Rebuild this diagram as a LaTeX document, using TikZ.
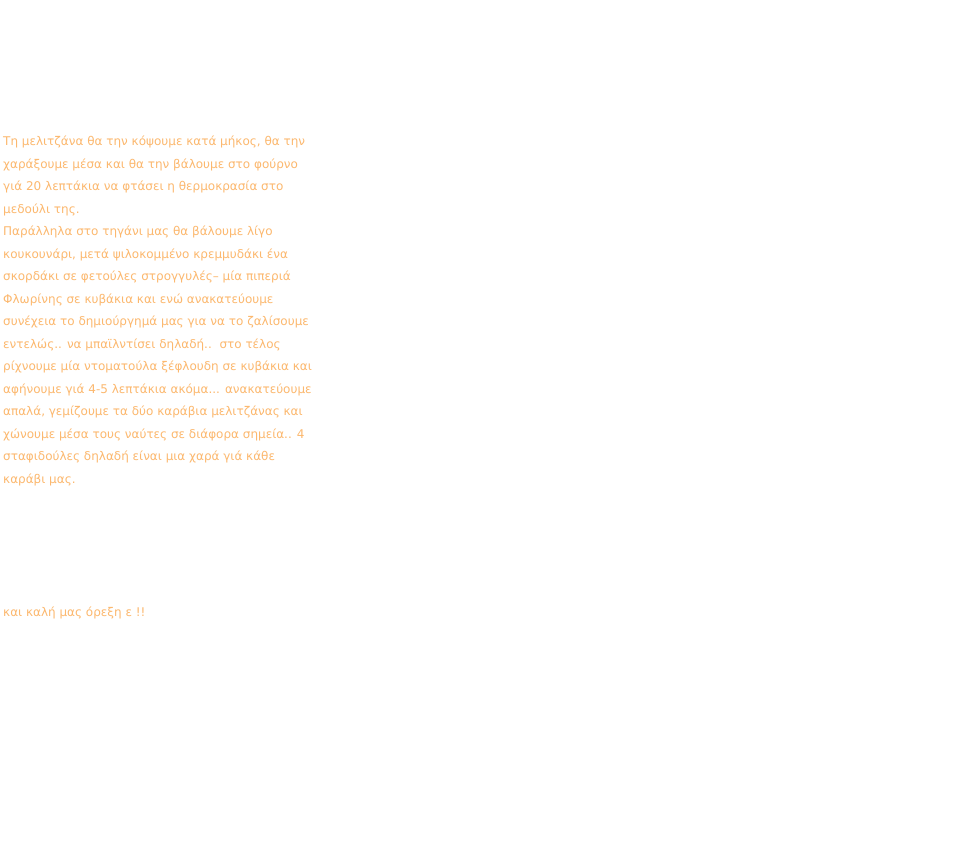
\documentclass[tikz,border=0pt]{standalone}
\usepackage{fontspec}
\setmainfont{DejaVu Sans}
\definecolor{txtorange}{RGB}{252,184,110}
\begin{document}
\begin{tikzpicture}[x=1pt,y=-1pt,
  line/.style={anchor=base west,inner sep=0pt,text=txtorange,font=\fontsize{12}{15}\selectfont}]
\useasboundingbox[fill=white] (0,0) rectangle (980,847);
\node[line] (l1) at (3,145.5) {Τη μελιτζάνα θα την κόψουμε κατά μήκος, θα την};
\node[line] (l2) at (3,168) {χαράξουμε μέσα και θα την βάλουμε στο φούρνο};
\node[line] (l3) at (3,190.5) {γιά 20 λεπτάκια να φτάσει η θερμοκρασία στο};
\node[line] (l4) at (3,213) {μεδούλι της.};
\node[line] (l5) at (3,235.5) {Παράλληλα στο τηγάνι μας θα βάλουμε λίγο};
\node[line] (l6) at (3,258) {κουκουνάρι, μετά ψιλοκομμένο κρεμμυδάκι ένα};
\node[line] (l7) at (3,280.5) {σκορδάκι σε φετούλες στρογγυλές– μία πιπεριά};
\node[line] (l8) at (3,303) {Φλωρίνης σε κυβάκια και ενώ ανακατεύουμε};
\node[line] (l9) at (3,325.5) {συνέχεια το δημιούργημά μας για να το ζαλίσουμε};
\node[line] (l10) at (3,348) {εντελώς.. να μπαϊλντίσει δηλαδή..\ \ στο τέλος};
\node[line] (l11) at (3,370.5) {ρίχνουμε μία ντοματούλα ξέφλουδη σε κυβάκια και};
\node[line] (l12) at (3,393) {αφήνουμε γιά 4-5 λεπτάκια ακόμα... ανακατεύουμε};
\node[line] (l13) at (3,415.5) {απαλά, γεμίζουμε τα δύο καράβια μελιτζάνας και};
\node[line] (l14) at (3,438) {χώνουμε μέσα τους ναύτες σε διάφορα σημεία.. 4};
\node[line] (l15) at (3,460.5) {σταφιδούλες δηλαδή είναι μια χαρά γιά κάθε};
\node[line] (l16) at (3,483) {καράβι μας.};
\node[line] (l17) at (3,616) {και καλή μας όρεξη ε !!};
\end{tikzpicture}
\end{document}
